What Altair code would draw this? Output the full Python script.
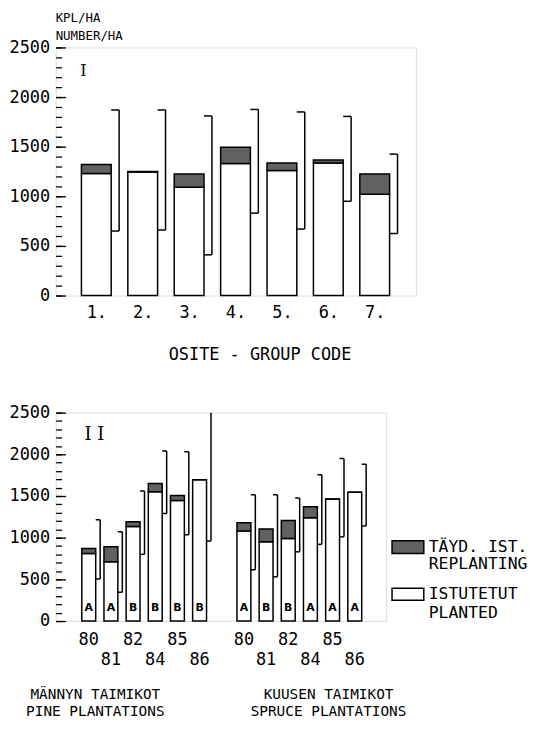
import altair as alt
import pandas as pd

FONT = "DejaVu Sans Mono"
GREY = "#616161"

# ---------------- Panel I : group codes ----------------
groups = [1, 2, 3, 4, 5, 6, 7]
planted_I = [1230, 1245, 1090, 1330, 1260, 1335, 1020]
total_I = [1320, 1250, 1225, 1495, 1335, 1365, 1225]
lo_I = [650, 660, 410, 830, 670, 950, 625]
hi_I = [1870, 1870, 1810, 1875, 1850, 1805, 1425]

# ---------------- Panel II : pine / spruce by year ----------------
years = ["80", "81", "82", "84", "85", "86"]
pine_planted = [810, 710, 1135, 1550, 1445, 1695]
pine_total = [870, 890, 1190, 1650, 1505, 1695]
pine_lo = [505, 345, 800, 1290, 1035, 960]
pine_hi = [1215, 1070, 1560, 2040, 2030, 2600]
pine_class = ["A", "A", "B", "B", "B", "B"]
spruce_planted = [1080, 950, 990, 1240, 1465, 1545]
spruce_total = [1180, 1105, 1205, 1370, 1465, 1545]
spruce_lo = [615, 530, 830, 920, 1010, 1140]
spruce_hi = [1515, 1515, 1475, 1755, 1950, 1880]
spruce_class = ["A", "B", "B", "A", "A", "A"]

y_major = [0, 500, 1000, 1500, 2000, 2500]
y_minor = list(range(0, 2501, 100))

W1, H1 = 363, 250
W2, H2 = 333, 210


def one(text):
    return pd.DataFrame({"t": [text]})


def label_axis():
    return alt.Axis(values=y_major, format="d", title=None, ticks=False, domain=False, grid=False,
                    labelPadding=6, labelFontSize=17, labelFont=FONT, labelColor="black",
                    orient="left")


def tick_axis(values, size):
    # ticks drawn inward: axis shifted into the plot by its tick length
    return alt.Axis(values=values, title=None, labels=False, domain=False, grid=False,
                    ticks=True, tickSize=size, offset=-size, tickColor="black",
                    tickWidth=1.3, orient="left")


def panel(base, xenc, yscale, barw, off_bar, off_br, clip_hi, extra, w, h):
    layers = [
        base.mark_bar(width=barw, fill="white", stroke="black", strokeWidth=1.5).encode(
            x=xenc, y=alt.Y("planted:Q", scale=yscale, axis=label_axis())),
        base.mark_point(opacity=0).encode(
            x=xenc, y=alt.Y("planted:Q", scale=yscale, axis=tick_axis(y_minor, 6))),
        base.mark_point(opacity=0).encode(
            x=xenc, y=alt.Y("planted:Q", scale=yscale, axis=tick_axis(y_major, 10))),
        base.mark_bar(width=barw, fill=GREY, stroke="black", strokeWidth=1.5).encode(
            x=xenc, y=alt.Y("planted:Q", scale=yscale, axis=None), y2="total:Q"),
        base.mark_rule(color="black", strokeWidth=1.5, xOffset=off_br, clip=clip_hi).encode(
            x=xenc, y=alt.Y("lo:Q", scale=yscale, axis=None), y2="hi:Q"),
        base.mark_rule(color="black", strokeWidth=1.5, xOffset=off_bar, x2Offset=off_br,
                       clip=clip_hi).encode(
            x=xenc, x2=xenc.shorthand, y=alt.Y("hi:Q", scale=yscale, axis=None)),
        base.mark_rule(color="black", strokeWidth=1.5, xOffset=off_bar, x2Offset=off_br).encode(
            x=xenc, x2=xenc.shorthand, y=alt.Y("lo:Q", scale=yscale, axis=None)),
    ] + extra
    return alt.layer(*layers).resolve_axis(y="independent").properties(width=w, height=h)


# ---------- top panel ----------
dfI = pd.DataFrame({"g": groups, "planted": planted_I, "total": total_I, "lo": lo_I, "hi": hi_I})
ys1 = alt.Scale(domain=[0, 2500], nice=False)
xs1 = alt.Scale(domain=[0.23, 7.78], nice=False, zero=False)
xI = alt.X("g:Q", scale=xs1, title=None,
           axis=alt.Axis(values=groups, labelExpr="datum.value + '.'", title=None, ticks=False,
                         domain=False, grid=False, labelPadding=9, labelFontSize=17,
                         labelFont=FONT, labelColor="black"))
top_extra = [
    alt.Chart(one("I")).mark_text(font="DejaVu Serif", fontSize=16, color="black").encode(
        text="t:N", x=alt.value(28), y=alt.value(24)),
    alt.Chart(one("KPL/HA")).mark_text(font=FONT, fontSize=12.5, align="left", color="black").encode(
        text="t:N", x=alt.value(0), y=alt.value(-30)),
    alt.Chart(one("NUMBER/HA")).mark_text(font=FONT, fontSize=12.5, align="left", color="black").encode(
        text="t:N", x=alt.value(0), y=alt.value(-12)),
    alt.Chart(one("OSITE - GROUP CODE")).mark_text(font=FONT, fontSize=17, color="black").encode(
        text="t:N", x=alt.value(206), y=alt.value(H1 + 60)),
]
top = panel(alt.Chart(dfI), xI, ys1, 30, 15, 23, False, top_extra, W1, H1)

# ---------- bottom panel ----------
pine_slots = list(range(0, 6))
spruce_slots = list(range(7, 13))
df2 = pd.DataFrame({
    "slot": pine_slots + spruce_slots,
    "year": years + years,
    "planted": pine_planted + spruce_planted,
    "total": pine_total + spruce_total,
    "lo": pine_lo + spruce_lo,
    "hi": pine_hi + spruce_hi,
    "cls": pine_class + spruce_class,
})
df2["row"] = [i % 2 for i in range(len(years))] * 2

ys2 = alt.Scale(domain=[0, 2500], nice=False)
xs2 = alt.Scale(domain=[-1.27, 13.19], nice=False, zero=False)
xII = alt.X("slot:Q", scale=xs2, axis=None, title=None)
base2 = alt.Chart(df2)
bot_extra = [
    base2.mark_text(font="DejaVu Sans", fontWeight="bold", fontSize=11, color="black").encode(
        x=xII, y=alt.value(H2 - 13), text="cls:N"),
    base2.transform_filter("datum.row == 0").mark_text(font=FONT, fontSize=17, color="black").encode(
        x=xII, y=alt.value(H2 + 19), text="year:N"),
    base2.transform_filter("datum.row == 1").mark_text(font=FONT, fontSize=17, color="black").encode(
        x=xII, y=alt.value(H2 + 39), text="year:N"),
    alt.Chart(one("I I")).mark_text(font="DejaVu Serif", fontSize=18, color="black").encode(
        text="t:N", x=alt.value(39), y=alt.value(23)),
    alt.Chart(one("MÄNNYN TAIMIKOT")).mark_text(font=FONT, fontSize=14.5, color="black").encode(
        text="t:N", x=alt.value(40), y=alt.value(H2 + 75)),
    alt.Chart(one("PINE PLANTATIONS")).mark_text(font=FONT, fontSize=14.5, color="black").encode(
        text="t:N", x=alt.value(40), y=alt.value(H2 + 92)),
    alt.Chart(one("KUUSEN TAIMIKOT")).mark_text(font=FONT, fontSize=14.5, color="black").encode(
        text="t:N", x=alt.value(275), y=alt.value(H2 + 75)),
    alt.Chart(one("SPRUCE PLANTATIONS")).mark_text(font=FONT, fontSize=14.5, color="black").encode(
        text="t:N", x=alt.value(275), y=alt.value(H2 + 92)),
    # legend
    alt.Chart(one("r")).mark_rect(fill=GREY, stroke="black", strokeWidth=1.5).encode(
        x=alt.value(339), x2=alt.value(371), y=alt.value(129), y2=alt.value(142)),
    alt.Chart(one("p")).mark_rect(fill="white", stroke="black", strokeWidth=1.5).encode(
        x=alt.value(339), x2=alt.value(371), y=alt.value(177), y2=alt.value(189)),
    alt.Chart(one("TÄYD. IST.")).mark_text(font=FONT, fontSize=16.5, align="left", color="black").encode(
        text="t:N", x=alt.value(376), y=alt.value(135.5)),
    alt.Chart(one("REPLANTING")).mark_text(font=FONT, fontSize=16.5, align="left", color="black").encode(
        text="t:N", x=alt.value(376), y=alt.value(153)),
    alt.Chart(one("ISTUTETUT")).mark_text(font=FONT, fontSize=16.5, align="left", color="black").encode(
        text="t:N", x=alt.value(376), y=alt.value(183)),
    alt.Chart(one("PLANTED")).mark_text(font=FONT, fontSize=16.5, align="left", color="black").encode(
        text="t:N", x=alt.value(376), y=alt.value(202)),
]
bottom = panel(base2, xII, ys2, 14, 7, 11.5, True, bot_extra, W2, H2)

chart = alt.vconcat(top, bottom, spacing=39).properties(padding=0).configure_view(
    stroke="black", strokeWidth=2).configure(background="white")

chart.save("out.html", embed_options={"renderer": "svg", "actions": False})
